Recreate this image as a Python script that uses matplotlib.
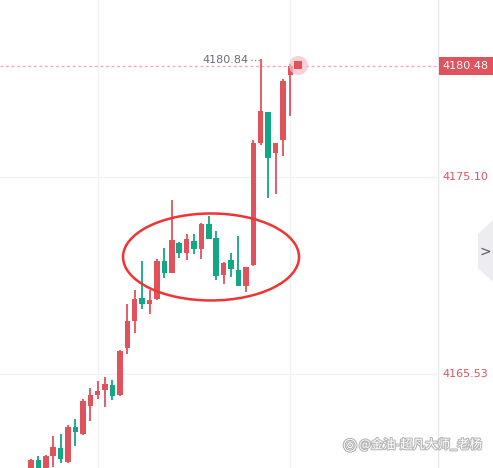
import matplotlib
matplotlib.use('Agg')
import matplotlib.pyplot as plt
import matplotlib.patheffects as pe
from matplotlib.patches import Ellipse, Polygon, Rectangle

# candle data (red = up, green = down)
opens = [4160.87, 4161.35, 4160.92, 4161.56, 4161.94, 4161.26, 4162.96, 4162.62, 4163.99, 4164.51,
         4164.77, 4164.99, 4164.51, 4166.81, 4168.12, 4169.22, 4168.93, 4169.17, 4171.01, 4170.45,
         4171.87, 4171.39, 4171.98, 4171.60, 4172.81, 4172.12, 4170.33, 4171.06, 4170.58, 4169.78,
         4170.82, 4176.76, 4178.26, 4176.27, 4176.89, 4180.06]
highs = [4161.40, 4161.55, 4161.60, 4162.52, 4162.62, 4163.04, 4163.34, 4164.33, 4164.85, 4165.19,
         4165.38, 4165.24, 4166.69, 4168.93, 4169.61, 4171.01, 4169.61, 4171.11, 4171.63, 4173.98,
         4171.95, 4172.32, 4172.32, 4172.87, 4173.22, 4172.47, 4170.98, 4171.42, 4172.23, 4170.72,
         4176.89, 4180.84, 4178.26, 4176.76, 4179.83, 4180.58]
lows = [4160.82, 4160.82, 4160.87, 4161.03, 4161.22, 4161.21, 4162.05, 4162.57, 4163.26, 4164.31,
        4163.94, 4164.27, 4164.46, 4166.50, 4167.53, 4168.70, 4168.44, 4169.12, 4170.17, 4170.43,
        4171.15, 4171.06, 4171.35, 4171.11, 4172.08, 4170.09, 4169.90, 4170.25, 4169.80, 4169.52,
        4170.77, 4176.65, 4174.09, 4174.27, 4176.11, 4178.05]
closes = [4161.35, 4160.92, 4161.55, 4162.00, 4161.42, 4162.97, 4162.73, 4164.23, 4164.51, 4164.70,
          4165.04, 4164.48, 4166.65, 4168.10, 4169.17, 4168.93, 4169.12, 4171.01, 4170.42, 4172.03,
          4171.39, 4172.08, 4171.60, 4172.81, 4172.08, 4170.30, 4170.93, 4170.63, 4169.80, 4170.72,
          4176.73, 4178.30, 4176.03, 4176.76, 4179.77, 4180.48]

last_price = 4180.48
high_price = 4180.84
high_idx = 31
grid_prices = [4175.10, 4165.53]
grid_idx = [9, 35]
watermark = '@金油-超凡大师_老杨'

RED = '#e0525c'
GREEN = '#12a785'

fig = plt.figure(figsize=(4.93, 4.68), dpi=100)
ax = fig.add_axes([0, 0, 438 / 493, 1])
ax.set_xlim(-4.18, 54.93)
ax.set_ylim(4160.97, 4183.68)
ax.axis('off')

for p in grid_prices:
    ax.axhline(p, color='#f2f2f5', lw=1, zorder=0)
for i in grid_idx:
    ax.axvline(i, color='#f2f2f5', lw=1, zorder=0)

xs = list(range(len(opens)))
cols = [RED if c >= o else GREEN for o, c in zip(opens, closes)]
ax.vlines(xs, lows, highs, colors=cols, lw=1.3, zorder=2)
bottoms = [min(o, c) for o, c in zip(opens, closes)]
heights = [max(abs(c - o), 0.06) for o, c in zip(opens, closes)]
ax.bar(xs, heights, bottom=bottoms, width=0.74, color=cols, zorder=3)

# last price dashed line and pulsing dot
ax.axhline(last_price, color='#f2a9b0', lw=1, dashes=(2, 2), zorder=1)
ax.scatter([len(opens)], [last_price + 0.05], s=190, color='#f6c0c6', alpha=0.7, lw=0, zorder=4)
ax.scatter([len(opens)], [last_price + 0.05], s=26, color=RED, marker='s', lw=0, zorder=5)

# high label
ax.plot([high_idx - 1.3, high_idx - 0.1], [high_price - 0.05, high_price - 0.05],
        color='#8a8a95', lw=1, dashes=(1, 1.5), zorder=2)
ax.text(high_idx - 1.7, high_price - 0.05, f'{high_price:.2f}', ha='right', va='center',
        fontsize=8, color='#6b6b75')

# red ellipse annotation
ax.add_patch(Ellipse((24.3, 4171.21), 23.75, 4.22, fill=False, ec='#f03434', lw=1.8, zorder=6))

# price scale
rax = fig.add_axes([438 / 493, 0, 55 / 493, 1])
rax.set_xlim(0, 55)
rax.set_ylim(ax.get_ylim())
rax.axis('off')
rax.axvline(0, color='#e6e6ec', lw=1)
for p in grid_prices:
    rax.text(4, p, f'{p:.2f}', ha='left', va='center', fontsize=8, color=RED)
rax.add_patch(Rectangle((0.5, last_price - 0.44), 55, 0.88, color=RED, lw=0, zorder=3))
rax.text(4, last_price, f'{last_price:.2f}', ha='left', va='center', fontsize=8,
         color='white', zorder=4)

# side tab
tab = Polygon([(40, 4172.33), (55, 4173.0), (55, 4170.0), (40, 4170.66)], closed=True,
              fc='#ececf1', ec='none', transform=rax.transData)
rax.add_patch(tab)
rax.text(47.5, 4171.46, '>', ha='center', va='center', fontsize=10, color='#5a5a66')

# watermark
fig.text(0.71, 0.05, '\u25ce', fontsize=12, color='white', ha='center', va='center',
         path_effects=[pe.withStroke(linewidth=1.5, foreground='#b0b0b0')])
fig.text(0.728, 0.05, watermark, fontsize=9, color='white', ha='left', va='center',
         family=['Noto Sans CJK SC', 'DejaVu Sans'],
         path_effects=[pe.withStroke(linewidth=1.6, foreground='#b8b8b8')])

fig.savefig('out.png', dpi=100)
